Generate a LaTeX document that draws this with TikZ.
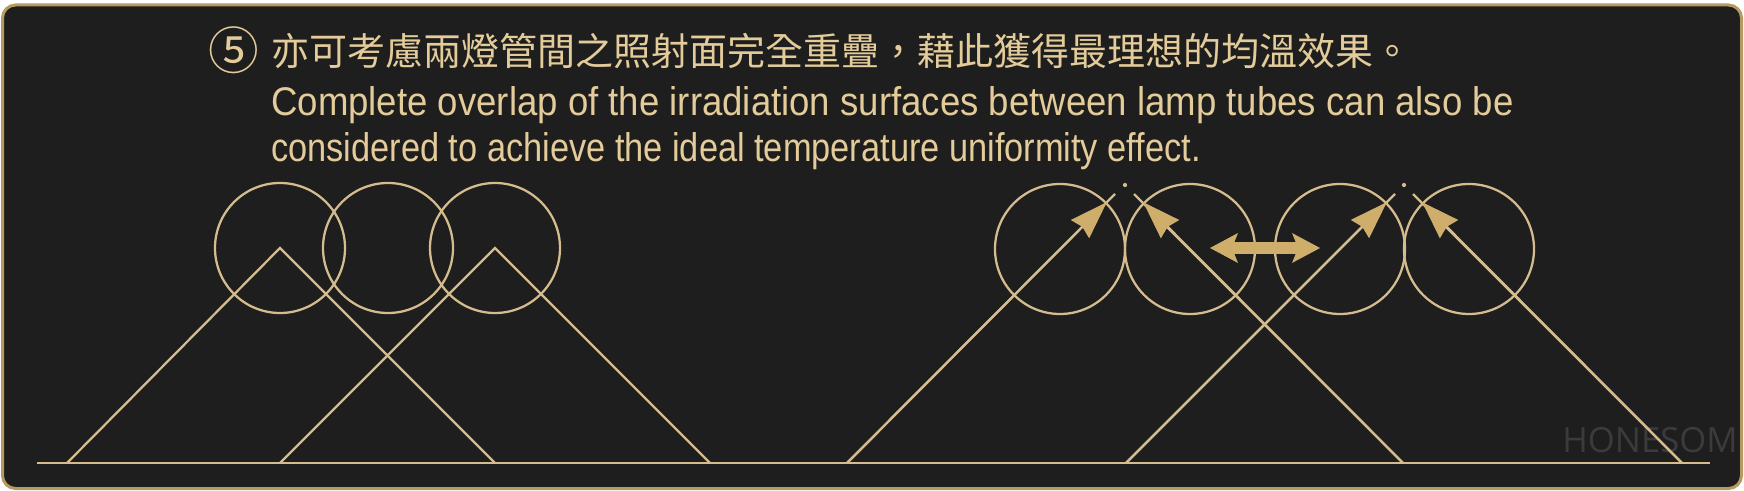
\documentclass[tikz,border=0pt]{standalone}
\usepackage{fontspec}
\usetikzlibrary{arrows.meta}
\newfontfamily\cjkfont{Noto Sans CJK TC}
\newfontfamily\engfont{Liberation Sans}
\newfontfamily\wmfont{Open Sans}
\definecolor{bgdark}{HTML}{1E1E1E}
\definecolor{framegold}{HTML}{B79A62}
\definecolor{linegold}{HTML}{D4BC8E}
\definecolor{textgold}{HTML}{E3CB9A}
\definecolor{headgold}{HTML}{CFAE6C}
\definecolor{wmgray}{HTML}{3B3B3B}
\begin{document}
\begin{tikzpicture}[x=0.75pt,y=-0.75pt,
  gline/.style={draw=linegold, line width=1.7pt},
  ring/.style={draw=linegold, line width=1.7pt, circle, minimum size=97.5pt, inner sep=0pt},
  tiparrow/.style={draw=linegold, line width=1.7pt,
    -{Stealth[length=28.5pt,width=19.5pt,inset=2.5pt,line width=0pt,color=headgold]}},
  dblarrow/.style={draw=headgold, line width=9pt,
    {Stealth[length=21pt,width=22.5pt,inset=4.5pt,line width=0pt,color=headgold]}-{Stealth[length=21pt,width=22.5pt,inset=4.5pt,line width=0pt,color=headgold]}},
  apexdot/.style={fill=linegold},
  txt/.style={inner sep=0pt, text=textgold}
]
\useasboundingbox (0,0) rectangle (1744,491);
\fill[white] (0,0) rectangle (1744,491);
\draw[draw=framegold, fill=bgdark, line width=2.25pt, rounded corners=9.75pt] (2.5,5) rectangle (1741.5,488.5);

% texts
\node[txt, anchor=center, font=\cjkfont\fontsize{38pt}{38pt}\selectfont] (num) at (234,50) {⑤};
\node[txt, anchor=base west, font=\cjkfont\fontsize{28.5pt}{30pt}\selectfont] (zh) at (271,66) {亦可考慮兩燈管間之照射面完全重疊，藉此獲得最理想的均溫效果。};
\node[txt, anchor=base west, font=\engfont\fontsize{30pt}{36pt}\selectfont] (en1) at (271,116) {\scalebox{0.9145}[1]{Complete overlap of the irradiation surfaces between lamp tubes can also be}};
\node[txt, anchor=base west, font=\engfont\fontsize{30pt}{36pt}\selectfont] (en2) at (271,162) {\scalebox{0.859}[1]{considered to achieve the ideal temperature uniformity effect.}};
\node[inner sep=0pt, anchor=base west, text=wmgray, font=\wmfont\fontsize{26pt}{26pt}\selectfont] (wm) at (1562,452) {HONESOM};

% baseline
\coordinate (bl) at (37,463);
\coordinate (br) at (1710,463);
\draw[gline, line width=2pt] (bl) -- (br);

% left group
\node[ring] (c1) at (280,248) {};
\node[ring] (c2) at (388,248) {};
\node[ring] (c3) at (495,248) {};
\coordinate (t1l) at (67,463);
\coordinate (t1r) at (495,463);
\coordinate (t2l) at (280,463);
\coordinate (t2r) at (710,463);
\draw[gline, line join=miter] (t1l) -- (c1.center) -- (t1r);
\draw[gline, line join=miter] (t2l) -- (c3.center) -- (t2r);

% right group
\node[ring] (cA) at (1060,249) {};
\node[ring] (cB) at (1190,249) {};
\node[ring] (cC) at (1340,249) {};
\node[ring] (cD) at (1469,249) {};
\coordinate (bA) at (847,463);
\coordinate (bB) at (1403,463);
\coordinate (bC) at (1126,463);
\coordinate (bD) at (1682,463);
\coordinate (eA) at (1115,194);
\coordinate (eB) at (1134,194);
\coordinate (eC) at (1395,194);
\coordinate (eD) at (1413,194);
\coordinate (dot1) at (1125,185);
\coordinate (dot2) at (1404,185);

\draw[gline] (bA) -- (eA);
\draw[gline] (bB) -- (eB);
\draw[gline] (bC) -- (eC);
\draw[gline] (bD) -- (eD);
\draw[tiparrow] (bA) -- (cA.45);
\draw[tiparrow] (bB) -- (cB.135);
\draw[tiparrow] (bC) -- (cC.45);
\draw[tiparrow] (bD) -- (cD.135);
\fill[apexdot] (dot1) circle (1.6pt);
\fill[apexdot] (dot2) circle (1.6pt);

\coordinate (dl) at (1210,248);
\coordinate (dr) at (1320,248);
\draw[dblarrow] (dl) -- (dr);
\end{tikzpicture}
\end{document}
